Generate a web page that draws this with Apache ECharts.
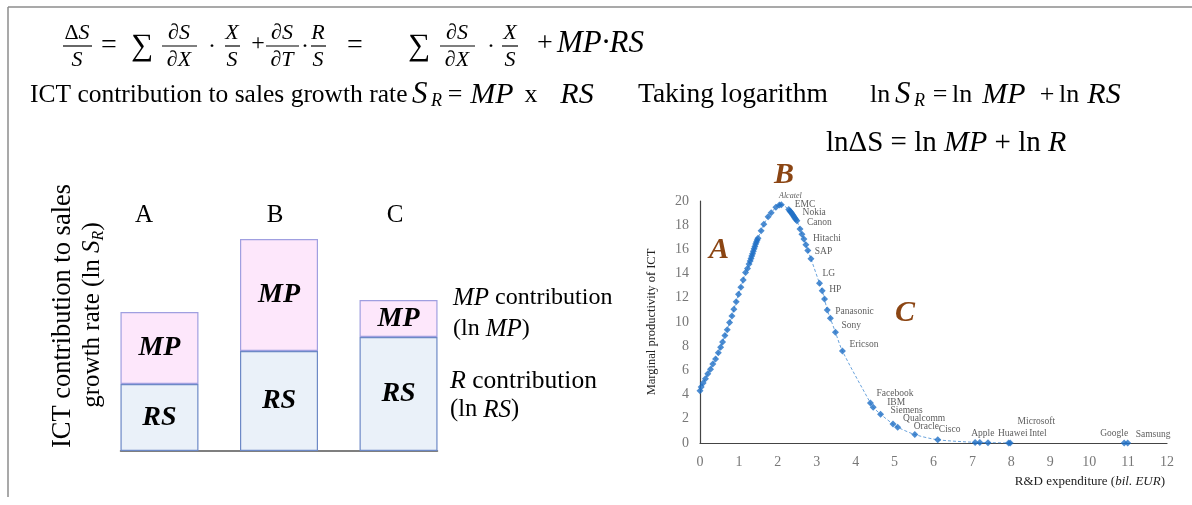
<!DOCTYPE html>
<html><head><meta charset="utf-8">
<script src="https://cdn.jsdelivr.net/npm/echarts/dist/echarts.min.js"></script>
<style>html,body{margin:0;padding:0;background:#fff}#c{width:1192px;height:505px}</style>
</head><body><div id="c"></div>
<script>
// ---------- Left chart data ----------
const barCategories = ['A', 'B', 'C'];
const rsValues = [6.7, 10.0, 11.4];   // ln RS contribution
const mpValues = [7.2, 11.2, 3.7];    // ln MP contribution

// ---------- Right chart data ----------
const rdExpenditure = [0.00,0.03,0.08,0.14,0.20,0.27,0.33,0.40,0.47,0.53,0.58,0.64,0.70,0.76,0.82,0.87,0.93,0.99,1.05,1.11,1.17,1.22,1.26,1.29,1.31,1.33,1.35,1.37,1.39,1.41,1.43,1.45,1.47,1.49,1.57,1.64,1.75,1.83,1.95,2.04,2.09,2.28,2.31,2.33,2.36,2.38,2.41,2.43,2.46,2.49,2.57,2.62,2.67,2.72,2.77,2.85,3.07,3.14,3.20,3.27,3.35,3.48,3.66,4.38,4.45,4.64,4.96,5.08,5.52,6.11,7.07,7.19,7.40,7.93,7.97,10.90,10.99];
const marginalProductivity = [4.32,4.62,4.95,5.30,5.72,6.10,6.52,6.95,7.45,7.92,8.35,8.88,9.35,9.95,10.50,11.05,11.68,12.30,12.88,13.48,14.10,14.42,14.80,15.05,15.25,15.45,15.65,15.85,16.05,16.25,16.45,16.62,16.78,16.92,17.55,18.07,18.70,19.02,19.48,19.67,19.70,19.30,19.18,19.10,18.98,18.87,18.74,18.62,18.50,18.37,17.69,17.25,16.86,16.39,15.90,15.23,13.20,12.59,11.90,10.99,10.30,9.15,7.60,3.30,2.95,2.38,1.56,1.30,0.70,0.27,0.05,0.04,0.03,0.01,0.01,0.00,0.00];
const companyNames = ['','','','','','','','','','','','','','','','','','','','','','','','','','','','','','','','','','','','','','','','','Alcatel','EMC','','','','Nokia','','','','Canon','','Hitachi','','','SAP','','LG','HP','','Panasonic','','Sony','Ericson','Facebook','IBM','Siemens','Qualcomm','Oracle','Cisco','','Apple','','Huawei','Microsoft','Intel','Google','Samsung'];
const xTickValues = [0,1,2,3,4,5,6,7,8,9,10,11,12];
const yTickValues = [0,2,4,6,8,10,12,14,16,18,20];

// ---------- label styling (offsets from each point, px) ----------
const labelOffsets = {
  Alcatel:[9,-9,'center'], EMC:[6,-5], Nokia:[10,-2], Canon:[10,2], Hitachi:[11,4], SAP:[7,1],
  LG:[3,-10], HP:[7,-1], Panasonic:[8,1], Sony:[6,-7], Ericson:[7,-7],
  Facebook:[6,-10], IBM:[14,-5], Siemens:[10,-4], Qualcomm:[10,-6], Oracle:[16,-1], Cisco:[24,-5],
  Apple:[-4,-9], Huawei:[10,-9], Microsoft:[9,-21], Intel:[19,-9], Google:[4,-10,'right'], Samsung:[8,-9]
};

const SERIF = '"Liberation Serif","Times New Roman",serif';
const SYM = 7;

const scatterData = rdExpenditure.map((x, i) => {
  const name = companyNames[i];
  const item = { value: [x, marginalProductivity[i]], name: name };
  if (name) {
    const o = labelOffsets[name];
    item.label = {
      show: true, formatter: name, position: [SYM / 2 + o[0], SYM / 2 + o[1]], align: o[2] || 'left',
      verticalAlign: 'middle',
      fontFamily: SERIF, fontSize: name === 'Alcatel' ? 8 : 9.5,
      fontStyle: name === 'Alcatel' ? 'italic' : 'normal', color: '#333'
    };
  }
  return item;
});
const curveData = rdExpenditure.map((x, i) => [x, marginalProductivity[i]]).filter(p => p[0] < 9);

// ---------- text helpers ----------
function T(x, y, text, st, extra) {
  return Object.assign({ type: 'text', x: x, y: y, silent: true,
    style: Object.assign({ text: text, fontFamily: SERIF, fontSize: 22, fill: '#000', align: 'left', verticalAlign: 'middle' }, st || {}) }, extra || {});
}
function I(x, y, text, size, align) {
  return T(x, y, text, { fontStyle: 'italic', fontSize: size, align: align || 'left' });
}
function L(x1, y1, x2, y2, stroke, w) {
  return { type: 'line', silent: true, shape: { x1, y1, x2, y2 }, style: { stroke: stroke || '#000', lineWidth: w || 1.2 } };
}
const mathRich = {
  i: { fontFamily: SERIF, fontStyle: 'italic', fontSize: 22 },
  r: { fontFamily: SERIF, fontSize: 22 }
};
function frac(cx, x1, x2, num, den) {
  return [
    T(cx, 33, num, { align: 'center', rich: mathRich }),
    L(x1, 46, x2, 46, '#000', 1.2),
    T(cx, 60, den, { align: 'center', rich: mathRich })
  ];
}
function richPair(iSize, rSize) {
  return { i: { fontFamily: SERIF, fontStyle: 'italic', fontSize: iSize }, r: { fontFamily: SERIF, fontSize: rSize } };
}

const graphics = [
  // frame
  L(8, 7, 1192, 7, '#8c8c8c', 1.5),
  L(8, 7, 8, 497, '#8c8c8c', 1.5),
  // equation line 1
  ...frac(77, 63, 92, '{r|Δ}{i|S}', '{i|S}'),
  T(109, 46, '=', { align: 'center', fontSize: 28 }),
  T(142, 47, '∑', { align: 'center', fontSize: 31 }),
  ...frac(179, 162, 197, '{i|∂S}', '{i|∂X}'),
  T(212, 47, '·', { align: 'center', fontSize: 24 }),
  ...frac(232, 225, 240, '{i|X}', '{i|S}'),
  T(258, 44, '+', { align: 'center', fontSize: 24 }),
  ...frac(282, 266, 299, '{i|∂S}', '{i|∂T}'),
  T(305, 47, '·', { align: 'center', fontSize: 24 }),
  ...frac(318, 311, 326, '{i|R}', '{i|S}'),
  T(355, 46, '=', { align: 'center', fontSize: 28 }),
  T(419, 47, '∑', { align: 'center', fontSize: 31 }),
  ...frac(457, 440, 475, '{i|∂S}', '{i|∂X}'),
  T(491, 47, '·', { align: 'center', fontSize: 24 }),
  ...frac(510, 502, 518, '{i|X}', '{i|S}'),
  T(545, 44, '+', { align: 'center', fontSize: 28 }),
  I(557, 44, 'MP·RS', 31),
  // line 2
  T(30, 95, 'ICT contribution to sales growth rate', { fontSize: 25.5 }),
  I(412, 95, 'S', 31), I(431, 101, 'R', 18),
  T(455, 95, '=', { align: 'center', fontSize: 26 }),
  I(492, 95, 'MP', 30, 'center'),
  T(531, 95, 'x', { align: 'center', fontSize: 26 }),
  I(577, 95, 'RS', 30, 'center'),
  T(638, 95, 'Taking logarithm', { fontSize: 27.5 }),
  T(870, 95, 'ln', { fontSize: 26 }),
  I(895, 95, 'S', 31), I(914, 101, 'R', 18),
  T(940, 95, '=', { align: 'center', fontSize: 26 }),
  T(952, 95, 'ln', { fontSize: 26 }),
  I(1004, 95, 'MP', 30, 'center'),
  T(1047, 95, '+', { align: 'center', fontSize: 26 }),
  T(1059, 95, 'ln', { fontSize: 26 }),
  I(1104, 95, 'RS', 30, 'center'),
  // line 3
  T(826, 143, '{r|lnΔS = ln }{i|MP}{r| + ln }{i|R}', { rich: richPair(30, 29) }),
  // left chart y title
  T(63, 316, 'ICT contribution to sales', { align: 'center', fontSize: 26.5 }, { rotation: Math.PI / 2 }),
  T(92, 315, '{r|growth rate (ln }{i|S}{sub|R}{r|)}', { align: 'center', rich: {
      r: { fontFamily: SERIF, fontSize: 25, lineHeight: 30 },
      i: { fontFamily: SERIF, fontStyle: 'italic', fontSize: 25, lineHeight: 30 },
      sub: { fontFamily: SERIF, fontStyle: 'italic', fontSize: 16, lineHeight: 18, verticalAlign: 'bottom' } } },
    { rotation: Math.PI / 2 }),
  // category letters
  T(144, 215, barCategories[0], { align: 'center', fontSize: 25 }),
  T(275, 215, barCategories[1], { align: 'center', fontSize: 25 }),
  T(395, 215, barCategories[2], { align: 'center', fontSize: 25 }),
  // annotations
  T(453, 298, '{i|MP}{r| contribution}', { rich: richPair(25, 24) }),
  T(453, 329, '{r|(ln }{i|MP}{r|)}', { rich: richPair(25, 24) }),
  T(450, 381, '{i|R}{r| contribution}', { rich: richPair(26, 25.5) }),
  T(450, 410, '{r|(ln }{i|RS}{r|)}', { rich: richPair(25, 24.5) }),
  // region letters on right chart
  T(784, 175, 'B', { align: 'center', fontSize: 30, fontWeight: 'bold', fontStyle: 'italic', fill: '#8b4513' }),
  T(719, 250, 'A', { align: 'center', fontSize: 30, fontWeight: 'bold', fontStyle: 'italic', fill: '#8b4513' }),
  T(905, 313, 'C', { align: 'center', fontSize: 30, fontWeight: 'bold', fontStyle: 'italic', fill: '#8b4513' }),
  // x axis name
  T(1165, 482, '{r|R&D expenditure (}{i|bil. EUR}{r|)}', { align: 'right', rich: { r: { fontFamily: SERIF, fontSize: 13, fill: '#222' }, i: { fontFamily: SERIF, fontStyle: 'italic', fontSize: 13, fill: '#222' } } })
];

const chart = echarts.init(document.getElementById('c'), null, { renderer: 'canvas' });
const barLabel = (txt) => ({ show: true, position: 'inside', formatter: txt, fontFamily: SERIF, fontSize: 28,
  fontWeight: 'bold', fontStyle: 'italic', color: '#000' });
chart.setOption({
  animation: false,
  backgroundColor: '#fff',
  grid: [
    { left: 120.5, width: 317, top: 211, height: 240 },
    { left: 700, width: 467, top: 201, height: 242 }
  ],
  xAxis: [
    { gridIndex: 0, type: 'value', min: 0.674, max: 3.326,
      axisLine: { show: true, onZero: false, lineStyle: { color: '#555', width: 1.5 } },
      axisTick: { show: false }, axisLabel: { show: false }, splitLine: { show: false } },
    { gridIndex: 1, type: 'value', min: 0, max: 12, interval: 1,
      axisLine: { show: true, onZero: false, lineStyle: { color: '#444', width: 1.2 } },
      axisTick: { show: false }, splitLine: { show: false },
      axisLabel: { margin: 12, fontFamily: SERIF, fontSize: 14, color: '#777',
        formatter: v => xTickValues.includes(v) ? String(v) : '' } }
  ],
  yAxis: [
    { gridIndex: 0, type: 'value', min: 0, max: 24, show: false },
    { gridIndex: 1, type: 'value', min: 0, max: 20, interval: 2,
      axisLine: { show: true, lineStyle: { color: '#444', width: 1.2 } },
      axisTick: { show: false }, splitLine: { show: false },
      axisLabel: { margin: 11, fontFamily: SERIF, fontSize: 14, color: '#777',
        formatter: v => yTickValues.includes(v) ? String(v) : '' },
      name: 'Marginal productivity of ICT', nameLocation: 'middle', nameGap: 42,
      nameTextStyle: { fontFamily: SERIF, fontSize: 12.5, color: '#222' } }
  ],
  series: [
    { name: 'RS', type: 'bar', xAxisIndex: 0, yAxisIndex: 0, stack: 'lnS', barWidth: 78,
      data: rsValues.map((v, i) => [v, i + 1]), encode: { x: 1, y: 0 },
      itemStyle: { color: '#eaf1f9', borderColor: '#6d89c6', borderWidth: 1.2 },
      label: barLabel('RS') },
    { name: 'MP', type: 'bar', xAxisIndex: 0, yAxisIndex: 0, stack: 'lnS', barWidth: 78,
      data: mpValues.map((v, i) => [v, i + 1]), encode: { x: 1, y: 0 },
      itemStyle: { color: '#fde7fb', borderColor: '#a09fe0', borderWidth: 1.2 },
      label: barLabel('MP') },
    { name: 'curve', type: 'line', xAxisIndex: 1, yAxisIndex: 1, data: curveData, smooth: 0.3,
      showSymbol: false, lineStyle: { color: '#6aa3dc', width: 1, type: [3, 2] }, z: 2, silent: true },
    { name: 'firms', type: 'scatter', xAxisIndex: 1, yAxisIndex: 1, data: scatterData,
      symbol: 'diamond', symbolSize: SYM, itemStyle: { color: '#1f6fc6' }, z: 3 }
  ],
  graphic: graphics
});
</script>
</body></html>
